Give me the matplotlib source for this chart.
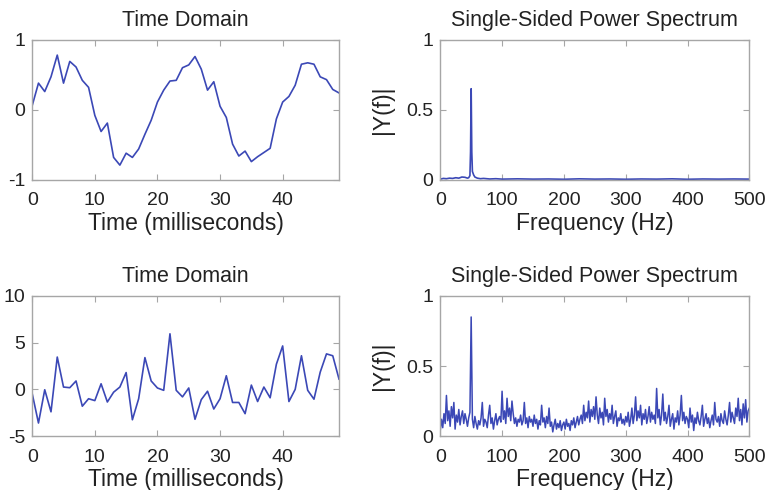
import matplotlib.pyplot as plt

plt.rcParams['font.family'] = ['Liberation Sans', 'DejaVu Sans']
plt.rcParams['axes.unicode_minus'] = False

# time axis, ms
t = list(range(50))

# top-left: clean-ish signal
sig1 = [0.06, 0.38, 0.26, 0.47, 0.78, 0.38, 0.69, 0.61, 0.42, 0.32,
        -0.08, -0.31, -0.19, -0.68, -0.79, -0.62, -0.68, -0.56, -0.35, -0.15,
        0.11, 0.28, 0.41, 0.42, 0.60, 0.64, 0.76, 0.58, 0.28, 0.40,
        0.05, -0.11, -0.49, -0.66, -0.59, -0.74, -0.67, -0.61, -0.55, -0.13,
        0.11, 0.19, 0.35, 0.65, 0.67, 0.65, 0.47, 0.43, 0.29, 0.24]

# bottom-left: noisy signal
sig2 = [-0.46, -3.6, -0.04, -2.4, 3.46, 0.25, 0.18, 0.9, -1.8, -1.0,
        -1.2, 0.6, -1.35, -0.3, 0.25, 1.8, -3.25, -1.0, 3.4, 0.9,
        0.15, -0.1, 5.95, -0.1, -0.8, 0.15, -3.2, -1.1, -0.2, -2.1,
        -1.0, 1.46, -1.4, -1.4, -2.6, 0.46, -1.3, 0.25, -0.9, 2.7,
        4.65, -1.3, 0.0, 3.6, -0.1, -1.05, 1.85, 3.8, 3.6, 1.1]

# top-right spectrum (sparse readout)
freq1 = [0, 5, 10, 15, 20, 25, 30, 35, 40,
         44, 46, 48, 49, 50, 51, 52, 54, 56,
         60, 65, 70, 80, 90, 100,
         125, 150, 175, 200, 225, 250, 275, 300, 325, 350, 375, 400, 425, 450, 475, 500]
mag1 = [0.005, 0.01, 0.008, 0.012, 0.01, 0.015, 0.012, 0.02, 0.018,
        0.012, 0.015, 0.03, 0.2, 0.65, 0.2, 0.06, 0.035, 0.02,
        0.012, 0.008, 0.01, 0.006, 0.008, 0.005,
        0.007, 0.005, 0.006, 0.004, 0.007, 0.005, 0.006, 0.004, 0.006, 0.005,
        0.007, 0.004, 0.006, 0.005, 0.006, 0.005]

# bottom-right spectrum, every 2 Hz
freq2 = list(range(0, 501, 2))
mag2 = [0.04, 0.12, 0.06, 0.16, 0.09, 0.29, 0.11, 0.18, 0.07, 0.21, 0.13, 0.24, 0.05, 0.15, 0.10, 0.19, 0.08, 0.14, 0.18, 0.09, 0.16, 0.12, 0.07, 0.13, 0.17,
        0.85, 0.12, 0.06, 0.14, 0.09, 0.05, 0.11, 0.08, 0.13, 0.24, 0.07, 0.12, 0.10, 0.06, 0.15, 0.22, 0.09, 0.13, 0.05, 0.11, 0.16, 0.08, 0.12, 0.14, 0.10,
        0.32, 0.12, 0.18, 0.09, 0.27, 0.14, 0.20, 0.11, 0.25, 0.16, 0.09, 0.13, 0.07, 0.12, 0.10, 0.15, 0.08, 0.11, 0.24, 0.09, 0.13, 0.06, 0.14, 0.10, 0.12,
        0.07, 0.15, 0.09, 0.12, 0.05, 0.11, 0.08, 0.22, 0.10, 0.13, 0.06, 0.14, 0.09, 0.20, 0.07, 0.10, 0.03, 0.08, 0.12, 0.05, 0.09, 0.06, 0.11, 0.04, 0.08,
        0.10, 0.05, 0.12, 0.07, 0.09, 0.04, 0.11, 0.08, 0.13, 0.06, 0.10, 0.14, 0.08, 0.12, 0.15, 0.09, 0.22, 0.11, 0.17, 0.13, 0.25, 0.10, 0.19, 0.14, 0.21,
        0.12, 0.28, 0.15, 0.09, 0.20, 0.13, 0.17, 0.08, 0.27, 0.14, 0.19, 0.10, 0.16, 0.12, 0.22, 0.09, 0.14, 0.18, 0.07, 0.13, 0.11, 0.16, 0.09, 0.12, 0.08,
        0.14, 0.10, 0.17, 0.07, 0.12, 0.20, 0.09, 0.15, 0.28, 0.11, 0.18, 0.13, 0.22, 0.08, 0.16, 0.12, 0.19, 0.09, 0.14, 0.21, 0.10, 0.17, 0.12, 0.15, 0.09,
        0.34, 0.13, 0.19, 0.08, 0.15, 0.30, 0.11, 0.17, 0.09, 0.14, 0.22, 0.07, 0.12, 0.16, 0.05, 0.13, 0.10, 0.18, 0.08, 0.15, 0.29, 0.11, 0.17, 0.09, 0.14,
        0.12, 0.06, 0.20, 0.10, 0.15, 0.04, 0.13, 0.09, 0.17, 0.11, 0.08, 0.14, 0.22, 0.07, 0.12, 0.16, 0.09, 0.13, 0.06, 0.11, 0.15, 0.08, 0.24, 0.12, 0.10,
        0.14, 0.07, 0.16, 0.11, 0.09, 0.18, 0.12, 0.08, 0.15, 0.24, 0.10, 0.17, 0.13, 0.09, 0.20, 0.14, 0.27, 0.11, 0.19, 0.08, 0.23, 0.13, 0.26, 0.10, 0.18,
        0.20]

line_color = '#3b48b6'
frame_color = '#a6a6a6'
text_color = '#222222'
tick_fs = 14
title_fs = 15.5
label_fs = 16.5

fig = plt.figure(figsize=(7.67, 4.9), dpi=100)

def style(ax):
    for s in ax.spines.values():
        s.set_color(frame_color)
        s.set_linewidth(1.0)
    ax.tick_params(direction='in', length=4, width=0.8, color=frame_color,
                   labelsize=tick_fs, labelcolor=text_color, top=True, right=True)
    ax.tick_params(axis='x', pad=9)
    ax.tick_params(axis='y', pad=5)

def setup(ax, title, xlabel, ylabel=None):
    ax.set_title(title, fontsize=title_fs, color=text_color, pad=10)
    ax.set_xlabel(xlabel, fontsize=label_fs, color=text_color, labelpad=2)
    if ylabel:
        ax.set_ylabel(ylabel, fontsize=label_fs, color=text_color, labelpad=9)
    style(ax)

# top-left
ax1 = fig.add_axes([0.042, 0.633, 0.400, 0.286])
ax1.plot(t, sig1, color=line_color, lw=1.2)
ax1.set_xlim(0, 49)
ax1.set_ylim(-1, 1)
ax1.set_xticks([0, 10, 20, 30, 40])
ax1.set_yticks([-1, 0, 1])
setup(ax1, "Time Domain", "Time (milliseconds)")

# top-right
ax2 = fig.add_axes([0.574, 0.633, 0.403, 0.286])
ax2.plot(freq1, mag1, color=line_color, lw=1.2)
ax2.set_xlim(0, 500)
ax2.set_ylim(0, 1)
ax2.set_xticks([0, 100, 200, 300, 400, 500])
ax2.set_yticks([0, 0.5, 1])
ax2.set_yticklabels(['0', '0.5', '1'])
setup(ax2, "Single-Sided Power Spectrum", "Frequency (Hz)", "|Y(f)|")

# bottom-left
ax3 = fig.add_axes([0.042, 0.110, 0.400, 0.286])
ax3.plot(t, sig2, color=line_color, lw=1.2)
ax3.set_xlim(0, 49)
ax3.set_ylim(-5, 10)
ax3.set_xticks([0, 10, 20, 30, 40])
ax3.set_yticks([-5, 0, 5, 10])
setup(ax3, "Time Domain", "Time (milliseconds)")

# bottom-right
ax4 = fig.add_axes([0.574, 0.110, 0.403, 0.286])
ax4.plot(freq2, mag2, color=line_color, lw=1.1)
ax4.set_xlim(0, 500)
ax4.set_ylim(0, 1)
ax4.set_xticks([0, 100, 200, 300, 400, 500])
ax4.set_yticks([0, 0.5, 1])
ax4.set_yticklabels(['0', '0.5', '1'])
setup(ax4, "Single-Sided Power Spectrum", "Frequency (Hz)", "|Y(f)|")

fig.savefig("out.png", dpi=100)
